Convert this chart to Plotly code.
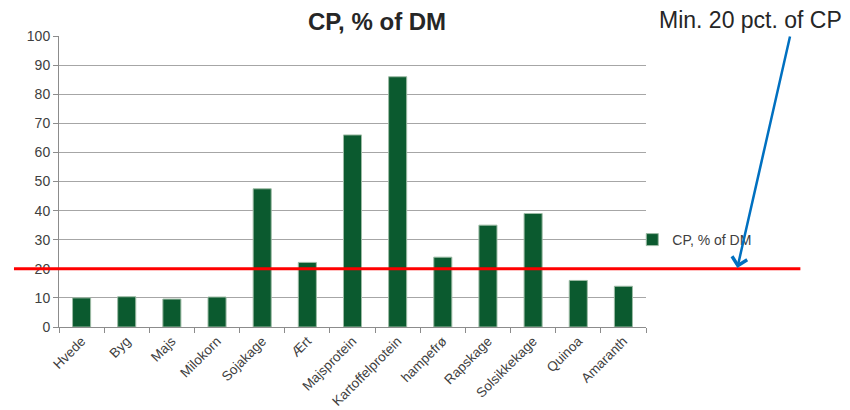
import plotly.graph_objects as go

categories = ["Hvede", "Byg", "Majs", "Milokorn", "Sojakage", "Ært", "Majsprotein",
              "Kartoffelprotein", "hampefrø", "Rapskage", "Solsikkekage", "Quinoa", "Amaranth"]
cp_values = [10.0, 10.4, 9.6, 10.3, 47.5, 22.2, 66.0, 86.0, 24.0, 35.0, 39.0, 16.0, 14.0]
threshold = 20
y_ticks = [0, 10, 20, 30, 40, 50, 60, 70, 80, 90, 100]

FONT = "Liberation Sans, Arial, sans-serif"

# page body has an 8px margin, so figure coords = screen coords - 8
L, R, T, B = 51, 637.7, 28, 319
PW = R - L

fig = go.Figure()
fig.add_trace(go.Bar(
    x=categories, y=cp_values, name="CP, % of DM",
    marker=dict(color="#0B5A2F", line=dict(color="#9DBBA5", width=1)),
))

fig.update_layout(
    width=850, height=410,
    margin=dict(l=L, r=850 - R, t=T, b=410 - B, autoexpand=False),
    paper_bgcolor="white", plot_bgcolor="white",
    bargap=0.6,
    font=dict(family=FONT, size=14, color="#404040"),
    title=dict(text="<b>CP, % of DM</b>", x=369 / 850, xref="container", xanchor="center",
               y=1 - 14 / 410, yref="container", yanchor="middle",
               font=dict(family=FONT, size=24, color="#262626")),
    showlegend=True,
    legend=dict(x=(624 - L) / PW, xanchor="left", y=(B - 232) / (B - T), yanchor="middle",
                font=dict(family=FONT, size=14, color="#404040"),
                bgcolor="rgba(0,0,0,0)", itemwidth=30),
    xaxis=dict(showline=True, linecolor="#8c8c8c", linewidth=1, automargin=False,
               ticks="outside", ticklen=5, tickcolor="#8c8c8c", tickson="boundaries",
               tickangle=-45, tickfont=dict(size=13.5, color="#404040"),
               showgrid=False, fixedrange=True),
    yaxis=dict(range=[0, 100], tickvals=y_ticks, showline=True, linecolor="#8c8c8c",
               linewidth=1, ticks="outside", ticklen=5, tickcolor="#8c8c8c", automargin=False,
               showgrid=True, gridcolor="#a6a6a6", gridwidth=1, zeroline=False,
               tickfont=dict(size=14, color="#404040")),
)

# red threshold line extending beyond the plot area
fig.add_shape(type="line", xref="paper", yref="y",
              x0=(6 - L) / PW, x1=(792 - L) / PW, y0=threshold, y1=threshold,
              line=dict(color="#FF0000", width=3), layer="above")

# annotation text
fig.add_annotation(text="Min. 20 pct. of CP", xref="paper", yref="paper",
                   x=(742 - L) / PW, y=1 + (T - 12) / (B - T), xanchor="center",
                   yanchor="middle", showarrow=False,
                   font=dict(family=FONT, size=23, color="#262626"))

# blue arrow
fig.add_annotation(text="", xref="paper", yref="y",
                   x=(729 - L) / PW, y=threshold + 0.3,
                   ax=53, ay=-233, showarrow=True, arrowhead=4, arrowsize=1.2,
                   arrowwidth=2.5, arrowcolor="#0070C0", standoff=0, startstandoff=0)

fig.write_html("out.html")
